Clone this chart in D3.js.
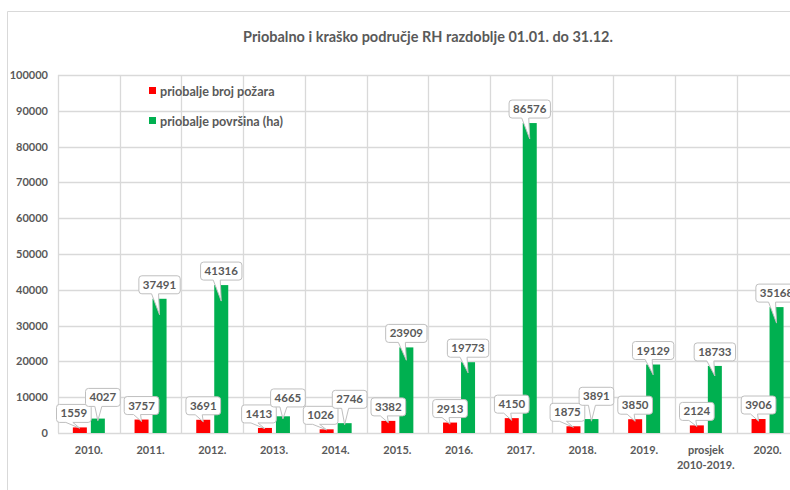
<!DOCTYPE html>
<html>
<head>
<meta charset="utf-8">
<script src="https://cdn.jsdelivr.net/npm/d3@7"></script>
<style>
  html, body { margin: 0; padding: 0; background: #fff; }
  svg { display: block; }
  text { font-family: Lato, "Open Sans", sans-serif; fill: #595959; font-weight: 700; }
</style>
</head>
<body>
<svg id="chart" width="790" height="490"></svg>
<script>
// ---- data ----
const categories = ["2010.", "2011.", "2012.", "2013.", "2014.", "2015.", "2016.", "2017.", "2018.", "2019.", "prosjek\n2010-2019.", "2020."];
const brojPozara = [1559, 3757, 3691, 1413, 1026, 3382, 2913, 4150, 1875, 3850, 2124, 3906];
const povrsina = [4027, 37491, 41316, 4665, 2746, 23909, 19773, 86576, 3891, 19129, 18733, 35168];
const seriesNames = ["priobalje broj požara", "priobalje površina (ha)"];
const seriesColors = ["#ff0000", "#00b050"];
const yTicks = [0, 10000, 20000, 30000, 40000, 50000, 60000, 70000, 80000, 90000, 100000];
const titleText = "Priobalno i kraško područje RH razdoblje 01.01. do 31.12.";

// ---- layout ----
const svg = d3.select("#chart");
const W = 790, H = 490;
const plot = { left: 58, right: 798.4, top: 75, bottom: 433 };
const grid = "#d9d9d9";

// outer chart frame
svg.append("line").attr("x1", 7.5).attr("x2", W).attr("y1", 11.5).attr("y2", 11.5).attr("stroke", grid);
svg.append("line").attr("x1", 7.5).attr("x2", 7.5).attr("y1", 11.5).attr("y2", H).attr("stroke", grid);

// title, fitted to the width it has in the reference
const title = svg.append("text").attr("x", 428).attr("y", 42).attr("text-anchor", "middle")
  .style("font-size", "14px").text(titleText);
{
  const w = title.node().getComputedTextLength();
  title.style("font-size", (14 * 370 / w).toFixed(2) + "px");
}

const x0 = d3.scaleBand().domain(categories).range([plot.left, plot.right]).padding(0);
const x1 = d3.scaleBand().domain([0, 1])
  .range([x0.bandwidth() / 2 - 16, x0.bandwidth() / 2 + 16]).paddingInner(0.222);
const y = d3.scaleLinear().domain([0, 100000]).range([plot.bottom, plot.top]);

// gridlines
const g = svg.append("g");
g.selectAll("line.h").data(yTicks).join("line")
  .attr("x1", plot.left).attr("x2", plot.right)
  .attr("y1", d => Math.round(y(d)) + 0.5).attr("y2", d => Math.round(y(d)) + 0.5)
  .attr("stroke", grid).attr("stroke-width", 1.3);
const bounds = categories.map(c => x0(c)).concat([plot.right]);
g.selectAll("line.v").data(bounds).join("line")
  .attr("x1", d => Math.round(d) + 0.5).attr("x2", d => Math.round(d) + 0.5)
  .attr("y1", plot.top).attr("y2", plot.bottom)
  .attr("stroke", grid).attr("stroke-width", 1.3);

// y axis labels
const yAxis = d3.axisLeft(y).tickValues(yTicks).tickSize(0).tickPadding(10).tickFormat(d3.format("d"));
const ya = svg.append("g").attr("transform", `translate(${plot.left},0)`).call(yAxis);
ya.select(".domain").remove();
ya.selectAll("text").style("font-size", "11px").style("font-family", "Lato, sans-serif").attr("fill", "#595959");

// x axis labels
const xAxis = d3.axisBottom(x0).tickSize(0).tickPadding(0).tickFormat("");
const xa = svg.append("g").attr("transform", `translate(0,${plot.bottom})`).call(xAxis);
xa.select(".domain").remove();
xa.selectAll(".tick").each(function(d) {
  const lines = d.split("\n");
  const t = d3.select(this).append("text").attr("text-anchor", "middle")
    .style("font-size", "11px").attr("fill", "#595959");
  lines.forEach((l, i) => t.append("tspan").attr("x", 0).attr("y", 21 + i * 14.5).text(l));
});

// bars
const values = [brojPozara, povrsina];
const bars = svg.append("g");
values.forEach((vals, si) => {
  bars.selectAll("rect.s" + si).data(vals).join("rect")
    .attr("x", (d, i) => x0(categories[i]) + x1(si))
    .attr("width", x1.bandwidth())
    .attr("y", d => y(d))
    .attr("height", d => y(0) - y(d))
    .attr("fill", seriesColors[si]);
});

// callout labels
function calloutPath(bx, by, w, h, r, wx1, wx2, tx, ty) {
  const x2 = bx + w, y2 = by + h;
  return `M${bx + r},${by} H${x2 - r} Q${x2},${by} ${x2},${by + r} V${y2 - r} Q${x2},${y2} ${x2 - r},${y2}` +
    ` H${wx2} L${tx},${ty} L${wx1},${y2} H${bx + r} Q${bx},${y2} ${bx},${y2 - r} V${by + r} Q${bx},${by} ${bx + r},${by} Z`;
}
const labels = svg.append("g");
const boxH = 18;
function drawLabel(value, barCx, barTop, boxCx, boxBottom) {
  const grp = labels.append("g");
  const path = grp.append("path");
  const t = grp.append("text").attr("text-anchor", "middle").style("font-size", "11.5px")
    .attr("x", boxCx).attr("y", boxBottom - boxH / 2 + 4).text(value);
  const tw = t.node().getComputedTextLength();
  const w = tw + 8;
  const barH = y(0) - barTop;
  const tipY = barTop + Math.min(16, barH * 0.15);
  path.attr("d", calloutPath(boxCx - w / 2, boxBottom - boxH, w, boxH, 3,
      boxCx - 8, boxCx - 1, barCx, tipY))
    .attr("fill", "#fff").attr("stroke", "#bfbfbf").attr("stroke-width", 1);
}
categories.forEach((c, i) => {
  const rc = x0(c) + x1(0) + x1.bandwidth() / 2;
  const gc = x0(c) + x1(1) + x1.bandwidth() / 2;
  const rTop = y(brojPozara[i]), gTop = y(povrsina[i]);
  const rBottom = rTop - 5;
  let gBottom = gTop - 5;
  let rDx = 0, gDx = 0;
  const close = gBottom > rBottom - boxH - 4;
  if (close) {
    rDx = -6; gDx = 5;
    gBottom = Math.min(gBottom, rBottom - boxH + 2);
  }
  drawLabel(brojPozara[i], rc, rTop, rc + rDx, rBottom);
  drawLabel(povrsina[i], gc, gTop, gc + gDx, gBottom);
});

// legend
const legend = svg.append("g");
seriesNames.forEach((n, i) => {
  legend.append("rect").attr("x", 149).attr("y", 87 + i * 30).attr("width", 7).attr("height", 7)
    .attr("fill", seriesColors[i]);
  legend.append("text").attr("x", 160).attr("y", 95.5 + i * 30).style("font-size", "12.6px").text(n);
});
</script>
</body>
</html>
